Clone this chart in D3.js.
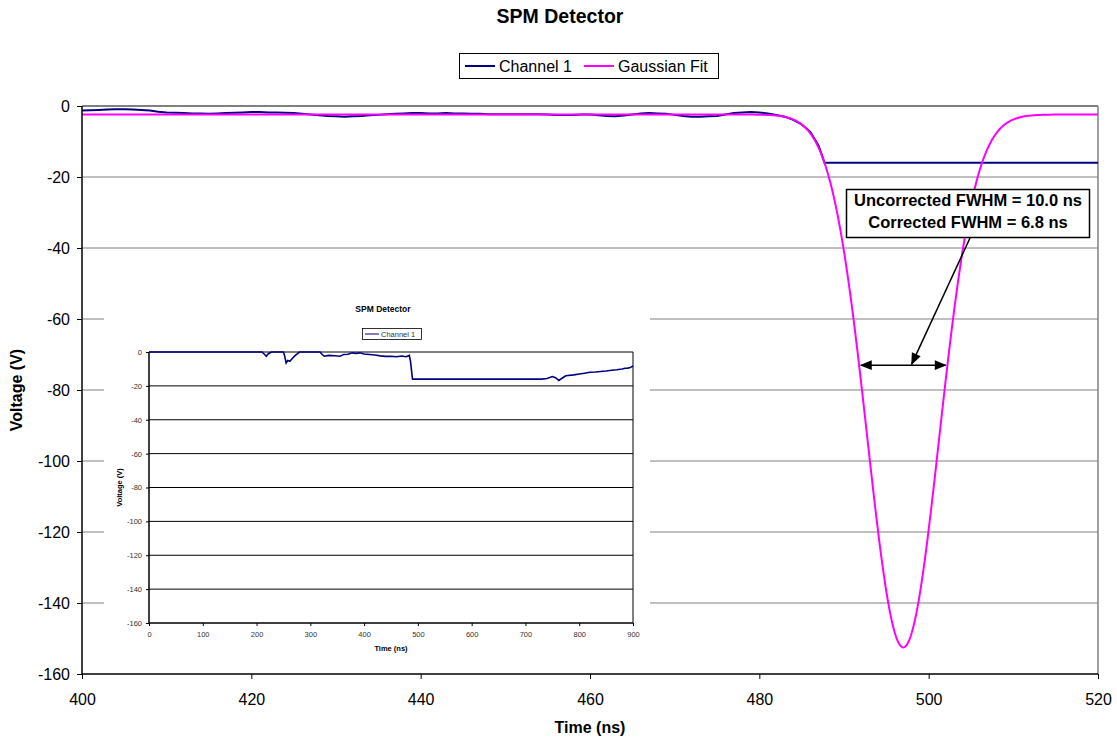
<!DOCTYPE html>
<html>
<head>
<meta charset="utf-8">
<script src="https://cdn.jsdelivr.net/npm/d3@7"></script>
<style>
  html, body { margin: 0; padding: 0; background: #fff; }
  svg { display: block; font-family: "Liberation Sans", Arial, sans-serif; }
</style>
</head>
<body>
<svg id="chart" width="1117" height="740"></svg>
<script>
// ---- Channel 1 trace, 400–520 ns (time in ns, voltage in V) ----
const ch1Time = [400,401,402,403,404,405,406,407,408,409,410,411,412,413,414,415,416,417,418,419,
  420,421,422,423,424,425,426,427,428,429,430,431,432,433,434,435,436,437,438,439,
  440,441,442,443,444,445,446,447,448,449,450,451,452,453,454,455,456,457,458,459,
  460,461,462,463,464,465,466,467,468,469,470,471,472,473,474,475,476,477,478,479,
  480,481,482,483,484,485,486,487,487.7,520];
const ch1Volt = [-1.3,-1.2,-1.1,-1.0,-0.9,-0.9,-1.0,-1.1,-1.3,-1.6,-1.8,-1.9,-2.0,-2.1,-2.1,-2.2,-2.1,-2.0,-1.9,-1.8,
  -1.7,-1.7,-1.8,-1.8,-1.9,-2.0,-2.2,-2.4,-2.6,-2.8,-2.9,-3.0,-2.9,-2.8,-2.6,-2.5,-2.3,-2.2,-2.1,-2.0,
  -2.0,-2.1,-2.1,-2.0,-2.1,-2.1,-2.2,-2.2,-2.3,-2.3,-2.3,-2.3,-2.3,-2.3,-2.3,-2.4,-2.5,-2.5,-2.5,-2.4,
  -2.4,-2.6,-2.8,-2.9,-2.7,-2.4,-2.1,-2.0,-2.1,-2.2,-2.5,-2.8,-3.0,-3.0,-2.9,-2.8,-2.4,-2.0,-1.8,-1.7,
  -1.8,-2.1,-2.5,-3.0,-3.9,-5.2,-7.2,-11.2,-16,-16];

// ---- Gaussian fit parameters ----
const fitCenter = 497.0;     // ns
const fitFWHM = 10.0;        // ns (uncorrected)
const fitPeak = -152.5;      // V
const fitBaseline = -2.4;    // V
const correctedFWHM = 6.8;   // ns
const fwhmMarkerLevel = -73; // V, height of the FWHM marker arrow

// ---- Inset: full Channel 1 record, 0–900 ns ----
const insetTime = [0,200,210,215,218,222,228,250,252,255,258,262,266,272,280,300,318,322,326,335,
  345,355,362,370,378,385,392,400,410,420,430,440,450,460,470,478,484,486,490,730,
  740,750,756,762,768,775,790,800,810,820,830,840,850,860,870,880,885,890,895,900];
const insetVolt = [0,0,0,-1.5,-2.5,-1,0,0,-2,-6.5,-5,-5.5,-4,-2,0,0,0,-1.5,-2.5,-2,
  -2.2,-2.5,-1.5,-1.3,-0.5,-0.8,-0.5,-1.2,-1.5,-1.8,-2.3,-2.6,-2.5,-2.8,-2.4,-2.8,-2.0,-5,-16,-16,
  -15.6,-14.5,-15.2,-16.8,-15.5,-14,-13.5,-13,-12.5,-12,-11.8,-11.5,-11.2,-10.8,-10.5,-10,-9.6,-9.5,-9.2,-8.3];

// ---- Axis ticks ----
const xTicks = [400,420,440,460,480,500,520];
const yTicks = [0,-20,-40,-60,-80,-100,-120,-140,-160];
const insetXTicks = [0,100,200,300,400,500,600,700,800,900];
const insetYTicks = [0,-20,-40,-60,-80,-100,-120,-140,-160];

const navy = "#000080", magenta = "#FF00FF";
const fmt = d => String(d);   // plain hyphen-minus labels
const svg = d3.select("#chart");

// ---------------- main chart ----------------
const x = d3.scaleLinear().domain([400, 520]).range([82, 1098]);
const y = d3.scaleLinear().domain([-160, 0]).range([674, 106]);

// gridlines
svg.append("g").selectAll("line").data(yTicks.filter(v => v > -160)).join("line")
  .attr("x1", x(400)).attr("x2", x(520))
  .attr("y1", d => y(d)).attr("y2", d => y(d))
  .attr("stroke", "#808080").attr("stroke-width", d => d === 0 ? 2 : 1);
// right border
svg.append("line").attr("x1", x(520)).attr("x2", x(520)).attr("y1", y(0)).attr("y2", y(-160))
  .attr("stroke", "#808080").attr("stroke-width", 1.5);

// clip to plot area
svg.append("clipPath").attr("id", "plotClip").append("rect")
  .attr("x", x(400)).attr("y", y(0) - 2).attr("width", x(520) - x(400) + 2).attr("height", y(-160) - y(0) + 4);

const plot = svg.append("g").attr("clip-path", "url(#plotClip)");

// Gaussian fit curve evaluated from its fitted parameters
const sigma = fitFWHM / (2 * Math.sqrt(2 * Math.LN2));
const gaussT = d3.range(400, 520.001, 0.1);
const gauss = t => fitBaseline + (fitPeak - fitBaseline) * Math.exp(-((t - fitCenter) ** 2) / (2 * sigma * sigma));

const line = d3.line().x(d => x(d[0])).y(d => y(d[1]));

plot.append("path")
  .datum(ch1Time.map((t, i) => [t, ch1Volt[i]]))
  .attr("d", line).attr("fill", "none").attr("stroke", navy).attr("stroke-width", 2);

plot.append("path")
  .datum(gaussT.map(t => [t, gauss(t)]))
  .attr("d", line).attr("fill", "none").attr("stroke", magenta).attr("stroke-width", 2);

// axes
const yAxis = svg.append("g").attr("transform", `translate(${x(400)},0)`)
  .call(d3.axisLeft(y).tickValues(yTicks).tickSize(5).tickPadding(7).tickFormat(fmt));
const xAxis = svg.append("g").attr("transform", `translate(0,${y(-160)})`)
  .call(d3.axisBottom(x).tickValues(xTicks).tickSize(5).tickPadding(15).tickFormat(fmt));
[yAxis, xAxis].forEach(g => {
  g.select(".domain").attr("stroke", "#000").attr("stroke-width", 1.5);
  g.selectAll(".tick line").attr("stroke", "#000");
  g.selectAll("text").attr("font-size", 16).attr("fill", "#000")
    .attr("font-family", "'Liberation Sans', Arial, sans-serif");
});
yAxis.select(".domain").attr("d", `M0,${y(0)}V${y(-160)}`);
xAxis.select(".domain").attr("d", `M${x(400)},0H${x(520)}`);

// titles
svg.append("text").attr("x", 560).attr("y", 23).attr("text-anchor", "middle")
  .attr("font-size", 19.5).attr("font-weight", "bold").text("SPM Detector");
svg.append("text").attr("x", 590).attr("y", 733).attr("text-anchor", "middle")
  .attr("font-size", 16).attr("font-weight", "bold").text("Time (ns)");
svg.append("text").attr("transform", `translate(22,${(y(0) + y(-160)) / 2}) rotate(-90)`)
  .attr("text-anchor", "middle").attr("font-size", 16).attr("font-weight", "bold").text("Voltage (V)");

// legend
const legend = svg.append("g");
legend.append("rect").attr("x", 459.5).attr("y", 53.5).attr("width", 259).attr("height", 25)
  .attr("fill", "#fff").attr("stroke", "#000").attr("stroke-width", 1);
const legendItems = [
  { name: "Channel 1", color: navy, x: 465 },
  { name: "Gaussian Fit", color: magenta, x: 584 }
];
legendItems.forEach(it => {
  legend.append("line").attr("x1", it.x).attr("x2", it.x + 30).attr("y1", 66).attr("y2", 66)
    .attr("stroke", it.color).attr("stroke-width", 2);
  legend.append("text").attr("x", it.x + 34).attr("y", 72).attr("font-size", 16).text(it.name);
});

// ---------------- inset chart ----------------
const inset = svg.append("g");
inset.append("rect").attr("x", 104).attr("y", 296).attr("width", 546).attr("height", 370).attr("fill", "#fff");

const ix = d3.scaleLinear().domain([0, 900]).range([149, 633]);
const iy = d3.scaleLinear().domain([-160, 0]).range([623, 352]);

inset.append("g").selectAll("line").data(insetYTicks.filter(v => v > -160)).join("line")
  .attr("x1", ix(0)).attr("x2", ix(900)).attr("y1", d => iy(d)).attr("y2", d => iy(d))
  .attr("stroke", "#000").attr("stroke-width", 1);
inset.append("line").attr("x1", ix(900)).attr("x2", ix(900)).attr("y1", iy(0)).attr("y2", iy(-160))
  .attr("stroke", "#000").attr("stroke-width", 1);

const iline = d3.line().x(d => ix(d[0])).y(d => iy(d[1]));
inset.append("path").datum(insetTime.map((t, i) => [t, insetVolt[i]]))
  .attr("d", iline).attr("fill", "none").attr("stroke", navy).attr("stroke-width", 1.6);

const iyAxis = inset.append("g").attr("transform", `translate(${ix(0)},0)`)
  .call(d3.axisLeft(iy).tickValues(insetYTicks).tickSize(3).tickPadding(4).tickFormat(fmt));
const ixAxis = inset.append("g").attr("transform", `translate(0,${iy(-160)})`)
  .call(d3.axisBottom(ix).tickValues(insetXTicks).tickSize(3).tickPadding(6).tickFormat(fmt));
[iyAxis, ixAxis].forEach(g => {
  g.select(".domain").attr("stroke", "#000").attr("stroke-width", 1.5);
  g.selectAll(".tick line").attr("stroke", "#000");
  g.selectAll("text").attr("font-size", 7.5).attr("fill", "#333")
    .attr("font-family", "'Liberation Sans', Arial, sans-serif");
});
iyAxis.select(".domain").attr("d", `M0,${iy(0)}V${iy(-160)}`);
ixAxis.select(".domain").attr("d", `M${ix(0)},0H${ix(900)}`);

inset.append("text").attr("x", 383).attr("y", 312).attr("text-anchor", "middle")
  .attr("font-size", 8.5).attr("font-weight", "bold").text("SPM Detector");
inset.append("text").attr("x", 391).attr("y", 651).attr("text-anchor", "middle")
  .attr("font-size", 7.5).attr("font-weight", "bold").text("Time (ns)");
inset.append("text").attr("transform", `translate(122,${(iy(0) + iy(-160)) / 2}) rotate(-90)`)
  .attr("text-anchor", "middle").attr("font-size", 7.5).attr("font-weight", "bold").text("Voltage (V)");
inset.append("rect").attr("x", 362.5).attr("y", 328.5).attr("width", 59).attr("height", 11)
  .attr("fill", "#fff").attr("stroke", "#000").attr("stroke-width", 0.8);
inset.append("line").attr("x1", 365).attr("x2", 379).attr("y1", 334).attr("y2", 334)
  .attr("stroke", navy).attr("stroke-width", 1);
inset.append("text").attr("x", 381).attr("y", 337).attr("font-size", 7.5).attr("fill", "#333").text("Channel 1");

// ---------------- FWHM annotation ----------------
const defs = svg.append("defs");
defs.append("marker").attr("id", "arrowHead").attr("viewBox", "0 0 10 10")
  .attr("refX", 9).attr("refY", 5).attr("markerWidth", 14).attr("markerHeight", 12)
  .attr("markerUnits", "userSpaceOnUse").attr("orient", "auto-start-reverse")
  .append("path").attr("d", "M0,1 L10,5 L0,9 Z").attr("fill", "#000");

const ann = svg.append("g");
// double arrow spanning the uncorrected FWHM
ann.append("line")
  .attr("x1", x(fitCenter - fitFWHM / 2)).attr("x2", x(fitCenter + fitFWHM / 2))
  .attr("y1", y(fwhmMarkerLevel)).attr("y2", y(fwhmMarkerLevel))
  .attr("stroke", "#000").attr("stroke-width", 1.5)
  .attr("marker-start", "url(#arrowHead)").attr("marker-end", "url(#arrowHead)");
// pointer from the label to the FWHM marker
ann.append("line")
  .attr("x1", 970).attr("y1", 238)
  .attr("x2", x(fitCenter + 1.0)).attr("y2", y(fwhmMarkerLevel) - 1)
  .attr("stroke", "#000").attr("stroke-width", 1.5)
  .attr("marker-end", "url(#arrowHead)");
ann.append("rect").attr("x", 846.5).attr("y", 189.5).attr("width", 243).attr("height", 48)
  .attr("fill", "#fff").attr("stroke", "#000").attr("stroke-width", 1.5);
ann.append("text").attr("x", 968).attr("y", 206).attr("text-anchor", "middle")
  .attr("font-size", 16.5).attr("font-weight", "bold").text(`Uncorrected FWHM = ${fitFWHM.toFixed(1)} ns`);
ann.append("text").attr("x", 968).attr("y", 228).attr("text-anchor", "middle")
  .attr("font-size", 16.5).attr("font-weight", "bold").text(`Corrected FWHM = ${correctedFWHM.toFixed(1)} ns`);
</script>
</body>
</html>
